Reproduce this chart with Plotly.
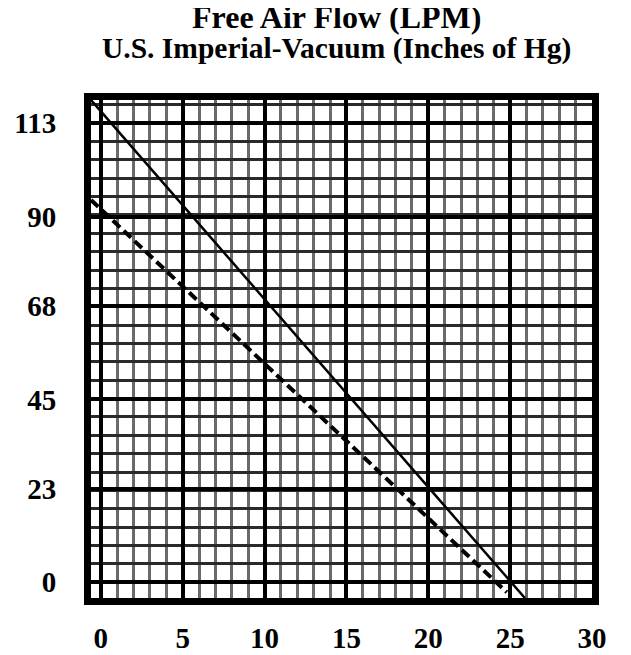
import plotly.graph_objects as go

# Data
solid_vacuum = [-0.6, 25.9]
solid_flow = [118.7, -3.9]
dashed_vacuum = [-0.6, 24.8]
dashed_flow = [94.1, -2.5]

x_tick_vals = [0, 5, 10, 15, 20, 25, 30]
x_tick_text = ["0", "5", "10", "15", "20", "25", "30"]
y_tick_vals = [0, 23, 45, 68, 90, 113]
y_tick_text = ["0", "23", "45", "68", "90", "113"]

title_line1 = "Free Air Flow (LPM)"
title_line2 = "U.S. Imperial-Vacuum (Inches of Hg)"

SERIF = "Liberation Serif, Times New Roman, serif"

fig = go.Figure()
fig.add_trace(go.Scatter(x=solid_vacuum, y=solid_flow, mode="lines",
                         line=dict(color="black", width=2.5), showlegend=False))
fig.add_trace(go.Scatter(x=dashed_vacuum, y=dashed_flow, mode="lines",
                         line=dict(color="black", width=4, dash="10px,5px"), showlegend=False))

font_lbl = dict(family=SERIF, size=29, color="black", weight="bold")

fig.update_xaxes(range=[-0.6, 30.0], tickvals=x_tick_vals, ticktext=x_tick_text,
                 showgrid=True, gridcolor="#000", gridwidth=3.5,
                 minor=dict(dtick=1, tick0=0, showgrid=True, gridcolor="#6a6a6a", gridwidth=2.5),
                 showline=True, linecolor="black", linewidth=7, mirror=True,
                 zeroline=False, ticks="", tickfont=font_lbl, ticklabelstandoff=8,
                 automargin=False)
fig.update_yaxes(range=[-3.9, 118.7], tickvals=y_tick_vals, ticktext=y_tick_text,
                 showgrid=True, gridcolor="#000", gridwidth=3.5,
                 minor=dict(dtick=113 / 25, tick0=0, showgrid=True, gridcolor="#2a2a2a", gridwidth=2.5),
                 showline=True, linecolor="black", linewidth=7, mirror=True,
                 zeroline=False, ticks="", tickfont=font_lbl, ticklabelstandoff=22,
                 automargin=False)

fig.add_annotation(text="<b>" + title_line1 + "</b>", xref="paper", yref="paper",
                   x=0.491, y=1.1667, xanchor="center", yanchor="middle", showarrow=False,
                   borderpad=0,
                   font=dict(family=SERIF, size=32, color="black"))
fig.add_annotation(text="<b>" + title_line2 + "</b>", xref="paper", yref="paper",
                   x=0.491, y=1.103, xanchor="center", yanchor="middle", showarrow=False,
                   borderpad=0,
                   font=dict(family=SERIF, size=29.5, color="black"))

# page body has an 8px default margin, so the figure is sized to fit the window
fig.update_layout(width=623, height=647, margin=dict(l=83, r=39, t=92, b=57, autoexpand=False),
                  plot_bgcolor="white", paper_bgcolor="white",
                  font=dict(family=SERIF, color="black"))

fig.write_html("out.html")
